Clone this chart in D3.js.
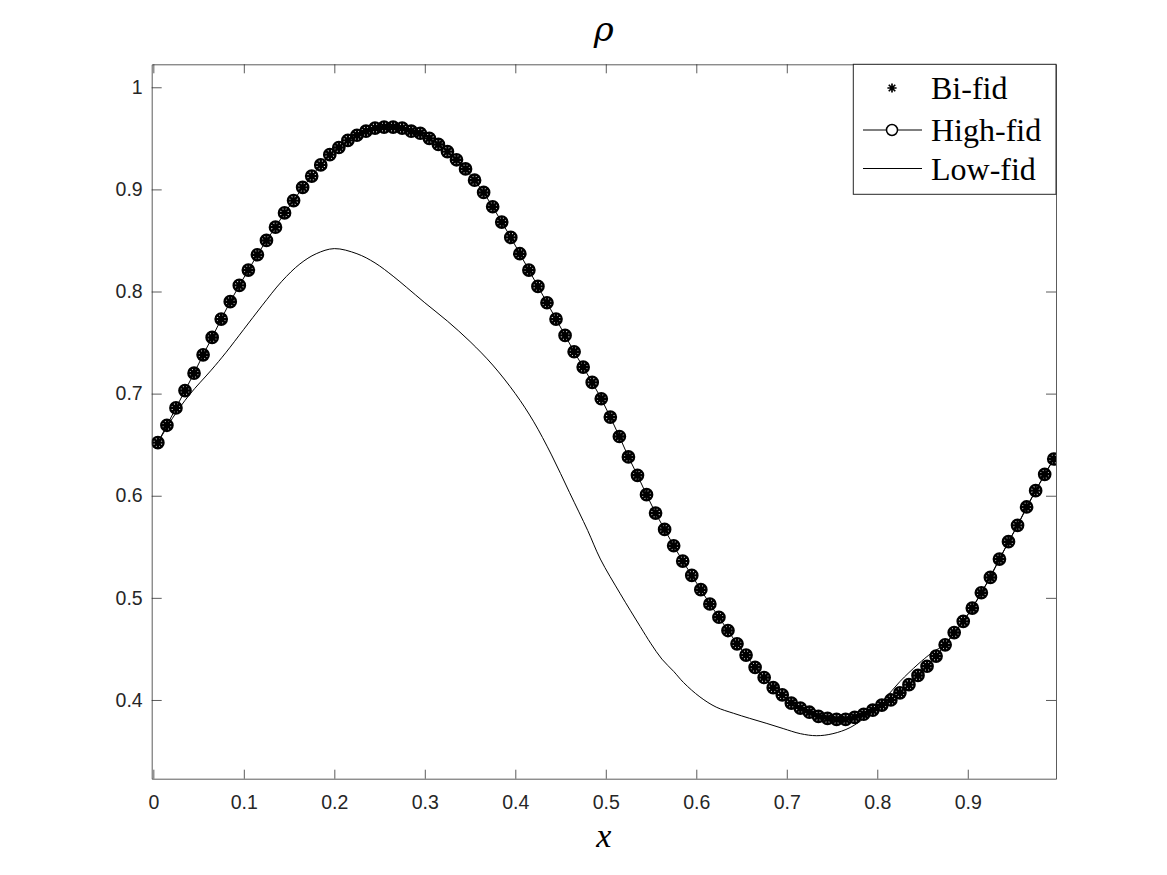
<!DOCTYPE html>
<html>
<head>
<meta charset="utf-8">
<script src="https://cdn.jsdelivr.net/npm/d3@7"></script>
<style>
  html, body { margin: 0; padding: 0; background: #fff; }
  svg { display: block; }
</style>
</head>
<body>
<script>
// ---------- DATA ----------
const xGrid = [0.005,0.015,0.025,0.035,0.045,0.055,0.065,0.075,0.085,0.095,
  0.105,0.115,0.125,0.135,0.145,0.155,0.165,0.175,0.185,0.195,
  0.205,0.215,0.225,0.235,0.245,0.255,0.265,0.275,0.285,0.295,
  0.305,0.315,0.325,0.335,0.345,0.355,0.365,0.375,0.385,0.395,
  0.405,0.415,0.425,0.435,0.445,0.455,0.465,0.475,0.485,0.495,
  0.505,0.515,0.525,0.535,0.545,0.555,0.565,0.575,0.585,0.595,
  0.605,0.615,0.625,0.635,0.645,0.655,0.665,0.675,0.685,0.695,
  0.705,0.715,0.725,0.735,0.745,0.755,0.765,0.775,0.785,0.795,
  0.805,0.815,0.825,0.835,0.845,0.855,0.865,0.875,0.885,0.895,
  0.905,0.915,0.925,0.935,0.945,0.955,0.965,0.975,0.985,0.995];

const highFid = [0.652,0.669,0.686,0.703,0.720,0.738,0.755,0.773,0.790,0.806,
  0.821,0.836,0.850,0.863,0.877,0.889,0.902,0.913,0.924,0.934,
  0.941,0.948,0.953,0.957,0.960,0.961,0.961,0.960,0.957,0.955,
  0.950,0.944,0.937,0.929,0.920,0.909,0.897,0.883,0.868,0.853,
  0.837,0.821,0.805,0.789,0.773,0.757,0.741,0.726,0.711,0.695,
  0.677,0.658,0.638,0.620,0.601,0.583,0.567,0.551,0.536,0.522,
  0.508,0.494,0.481,0.468,0.455,0.444,0.432,0.422,0.412,0.405,
  0.397,0.392,0.388,0.384,0.382,0.381,0.381,0.383,0.386,0.390,
  0.395,0.400,0.407,0.415,0.424,0.433,0.443,0.454,0.466,0.477,
  0.490,0.505,0.520,0.538,0.555,0.571,0.589,0.605,0.621,0.636];

const biFid = [0.652,0.669,0.686,0.703,0.720,0.738,0.755,0.773,0.790,0.806,
  0.821,0.836,0.850,0.863,0.877,0.889,0.902,0.913,0.924,0.934,
  0.941,0.948,0.953,0.957,0.960,0.961,0.961,0.960,0.957,0.955,
  0.950,0.944,0.937,0.929,0.920,0.909,0.897,0.883,0.868,0.853,
  0.837,0.821,0.805,0.789,0.773,0.757,0.741,0.726,0.711,0.695,
  0.677,0.658,0.638,0.620,0.601,0.583,0.567,0.551,0.536,0.522,
  0.508,0.494,0.481,0.468,0.455,0.444,0.432,0.422,0.412,0.405,
  0.397,0.392,0.388,0.384,0.382,0.381,0.381,0.383,0.386,0.390,
  0.395,0.400,0.407,0.415,0.424,0.433,0.443,0.454,0.466,0.477,
  0.490,0.505,0.520,0.538,0.555,0.571,0.589,0.605,0.621,0.636];

const lowX = [0.005,0.022,0.04,0.064,0.08,0.1,0.12,0.142,0.162,0.18,
  0.2,0.225,0.245,0.265,0.28,0.3,0.325,0.35,0.375,0.4,
  0.42,0.44,0.46,0.48,0.494,0.516,0.538,0.55,0.562,0.575,
  0.586,0.604,0.622,0.641,0.659,0.678,0.696,0.715,0.733,0.751,
  0.77,0.788,0.807,0.825,0.845,0.86,0.875,0.895,0.915,0.935,
  0.955,0.975,0.995];
const lowFid = [0.652,0.677,0.699,0.723,0.740,0.763,0.786,0.810,0.827,0.837,
  0.842,0.837,0.828,0.815,0.804,0.789,0.771,0.751,0.728,0.700,
  0.673,0.640,0.603,0.566,0.538,0.504,0.472,0.455,0.440,0.428,
  0.417,0.403,0.393,0.387,0.382,0.377,0.372,0.367,0.365,0.367,
  0.373,0.384,0.400,0.418,0.435,0.446,0.455,0.477,0.505,0.538,
  0.571,0.605,0.636];

const xTicks = [0,0.1,0.2,0.3,0.4,0.5,0.6,0.7,0.8,0.9];
const xTickLabels = ["0","0.1","0.2","0.3","0.4","0.5","0.6","0.7","0.8","0.9"];
const yTicks = [0.4,0.5,0.6,0.7,0.8,0.9,1];
const yTickLabels = ["0.4","0.5","0.6","0.7","0.8","0.9","1"];
const legendLabels = ["Bi-fid","High-fid","Low-fid"];
const titleText = "ρ";
const xLabelText = "x";

// ---------- LAYOUT ----------
const W = 1167, H = 875;
const L = 151.7, R = 1056, T = 64.3, B = 778.7;
const axisColor = "#262626";

const svg = d3.select("body").append("svg")
  .attr("width", W).attr("height", H)
  .style("background", "#fff");

const x = d3.scaleLinear().domain([-0.0018, 0.9975]).range([L, R]);
const y = d3.scaleLinear().domain([0.3229, 1.0225]).range([B, T]);

svg.append("defs").append("clipPath").attr("id", "clip")
  .append("rect").attr("x", L).attr("y", T).attr("width", R - L).attr("height", B - T);

const plot = svg.append("g").attr("clip-path", "url(#clip)");

// low-fid line
const lowPts = lowX.map((d, i) => [d, lowFid[i]]);
plot.append("path")
  .datum(lowPts)
  .attr("fill", "none").attr("stroke", "#000").attr("stroke-width", 1)
  .attr("d", d3.line().x(d => x(d[0])).y(d => y(d[1])).curve(d3.curveCatmullRom.alpha(0.5)));

// high-fid line
const highPts = xGrid.map((d, i) => [d, highFid[i]]);
plot.append("path")
  .datum(highPts)
  .attr("fill", "none").attr("stroke", "#000").attr("stroke-width", 1)
  .attr("d", d3.line().x(d => x(d[0])).y(d => y(d[1])));

// high-fid circles
plot.append("g").selectAll("circle").data(highPts).join("circle")
  .attr("cx", d => x(d[0])).attr("cy", d => y(d[1])).attr("r", 5.7)
  .attr("fill", "none").attr("stroke", "#000").attr("stroke-width", 2.3);

function starPath(cx, cy, r) {
  const d = r * Math.SQRT1_2;
  return `M${cx - r},${cy}L${cx + r},${cy}M${cx},${cy - r}L${cx},${cy + r}` +
         `M${cx - d},${cy - d}L${cx + d},${cy + d}M${cx - d},${cy + d}L${cx + d},${cy - d}`;
}
const biPts = xGrid.map((d, i) => [d, biFid[i]]);
plot.append("g").selectAll("path").data(biPts).join("path")
  .attr("d", d => starPath(x(d[0]), y(d[1]), 5.5))
  .attr("fill", "none").attr("stroke", "#000").attr("stroke-width", 2.4);

// ---------- AXES ----------
const gB = svg.append("g").attr("transform", `translate(0,${B})`)
  .call(d3.axisBottom(x).tickValues(xTicks).tickFormat((d) => xTickLabels[xTicks.indexOf(d)])
    .tickSizeInner(-9).tickSizeOuter(0).tickPadding(16));
const gT = svg.append("g").attr("transform", `translate(0,${T})`)
  .call(d3.axisTop(x).tickValues(xTicks).tickFormat("").tickSizeInner(-9).tickSizeOuter(0));
const gL = svg.append("g").attr("transform", `translate(${L},0)`)
  .call(d3.axisLeft(y).tickValues(yTicks).tickFormat((d) => yTickLabels[yTicks.indexOf(d)])
    .tickSizeInner(-10).tickSizeOuter(0).tickPadding(9));
const gR = svg.append("g").attr("transform", `translate(${R},0)`)
  .call(d3.axisRight(y).tickValues(yTicks).tickFormat("").tickSizeInner(-10).tickSizeOuter(0));

[gB, gT, gL, gR].forEach(g => {
  g.attr("font-size", null).attr("font-family", null);
  g.select(".domain").attr("stroke", axisColor).attr("stroke-width", 1).attr("opacity", 0.75);
  g.selectAll(".tick line").attr("stroke", axisColor).attr("stroke-width", 1).attr("opacity", 0.75);
  g.selectAll(".tick text").attr("fill", axisColor)
    .style("font-family", "'Liberation Sans', Arial, Helvetica, sans-serif")
    .style("font-size", "19.5px");
});

// ---------- TITLE & LABELS ----------
svg.append("text").attr("x", (L + R) / 2).attr("y", 41)
  .attr("text-anchor", "middle")
  .style("font-family", "'DejaVu Serif', 'Liberation Serif', serif")
  .style("font-style", "italic").style("font-size", "34px")
  .attr("fill", "#000").text(titleText);

svg.append("text").attr("x", (L + R) / 2).attr("y", 847)
  .attr("text-anchor", "middle")
  .style("font-family", "'Liberation Serif', 'DejaVu Serif', serif")
  .style("font-style", "italic").style("font-size", "34px")
  .attr("fill", "#000").text(xLabelText);

// ---------- LEGEND ----------
const lg = svg.append("g");
lg.append("rect").attr("x", 853.3).attr("y", 64.3).attr("width", 1056 - 853.3).attr("height", 194.3 - 64.3)
  .attr("fill", "#fff").attr("stroke", axisColor).attr("stroke-width", 1);
const rowY = [88, 130, 168.5];
const sx0 = 863, sx1 = 922, smid = 892, tx = 931;
lg.append("path").attr("d", starPath(smid, rowY[0], 4.6))
  .attr("stroke", "#000").attr("stroke-width", 1.7).attr("fill", "none");
lg.append("line").attr("x1", sx0).attr("x2", sx1).attr("y1", rowY[1]).attr("y2", rowY[1])
  .attr("stroke", "#000").attr("stroke-width", 1);
lg.append("circle").attr("cx", smid).attr("cy", rowY[1]).attr("r", 5.5)
  .attr("fill", "#fff").attr("stroke", "#000").attr("stroke-width", 1.5);
lg.append("line").attr("x1", sx0).attr("x2", sx1).attr("y1", rowY[2]).attr("y2", rowY[2])
  .attr("stroke", "#000").attr("stroke-width", 1);
lg.selectAll("text.lab").data(legendLabels).join("text")
  .attr("class", "lab")
  .attr("x", tx).attr("y", (d, i) => rowY[i])
  .attr("dy", "0.35em")
  .style("font-family", "'Liberation Serif', 'DejaVu Serif', serif")
  .style("font-size", "32px")
  .attr("fill", "#000").text(d => d);
</script>
</body>
</html>
